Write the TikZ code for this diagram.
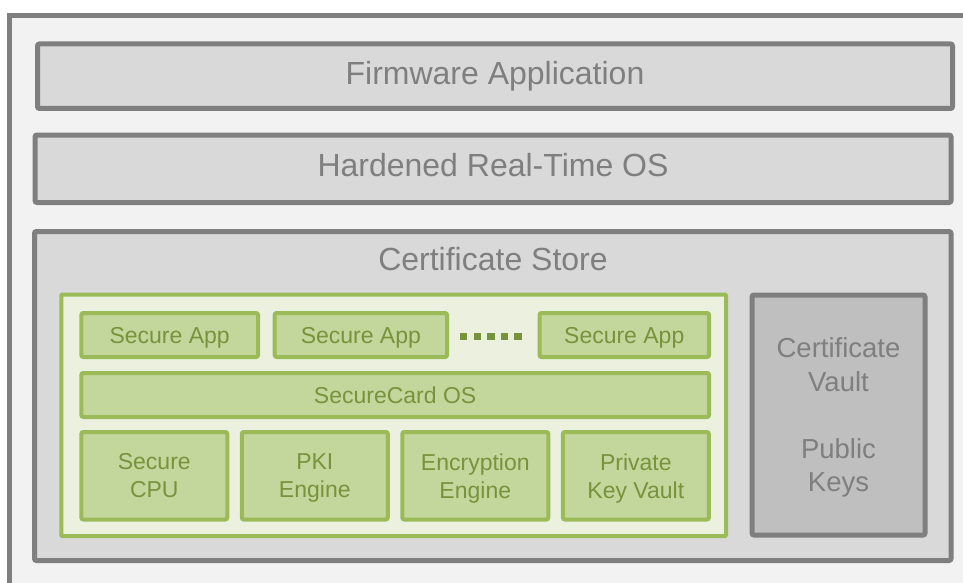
\documentclass[tikz,border=0pt]{standalone}
\usepackage{fontspec}
\setmainfont{Liberation Sans}
\definecolor{frameGray}{HTML}{7F7F7F}
\definecolor{paleGray}{HTML}{F2F2F2}
\definecolor{boxGray}{HTML}{D9D9D9}
\definecolor{vaultGray}{HTML}{BFBFBF}
\definecolor{leafGreen}{HTML}{9BBB59}
\definecolor{paleGreen}{HTML}{EBF1DE}
\definecolor{midGreen}{HTML}{C3D69B}
\definecolor{textGreen}{HTML}{77933C}
\tikzset{
  layer/.style={draw=frameGray, fill=boxGray, line width=5pt, rounded corners=2pt,
    inner sep=0pt, text=frameGray, text depth=6.7pt, font=\fontsize{32}{38}\selectfont},
  vaultbox/.style={draw=frameGray, fill=vaultGray, line width=5pt, rounded corners=2pt,
    inner sep=0pt, text=frameGray, align=center, text depth=0pt,
    font=\fontsize{27.5}{33.5}\selectfont},
  cardzone/.style={draw=leafGreen, fill=paleGreen, line width=4pt, rounded corners=1pt, inner sep=0pt},
  cardpart/.style={draw=leafGreen, fill=midGreen, line width=4pt, rounded corners=2pt,
    inner sep=0pt, text=textGreen, align=center, text depth=0pt,
    font=\fontsize{23}{28}\selectfont},
}
\begin{document}
\begin{tikzpicture}[x=1pt, y=-1pt]
\useasboundingbox (0,0) rectangle (963,583);
% outer enclosure, open to the right and bottom
\fill[paleGray] (9,16) rectangle (970,590);
\draw[frameGray, line width=5pt] (9,590) -- (9,16) -- (970,16);

% upper software layers
\node[layer, minimum width=915pt, minimum height=64.5pt] (fw) at (495,76.25) {Firmware Application};
\node[layer, minimum width=916pt, minimum height=67.5pt] (rtos) at (493,168.75) {Hardened Real-Time OS};

% certificate store
\node[layer, minimum width=916.5pt, minimum height=329pt] (store) at (492.75,396) {};
\node[text=frameGray, font=\fontsize{32}{38}\selectfont, anchor=base, inner sep=0pt]
  (storetitle) at (493,270) {Certificate Store};

% secure card region
\node[cardzone, minimum width=664.7pt, minimum height=241.5pt] (card) at (393.65,415.25) {};
\node[cardpart, minimum width=176.7pt, minimum height=44pt] (app1) at (169.65,335) {Secure App};
\node[cardpart, minimum width=172.3pt, minimum height=44pt] (app2) at (360.85,335) {Secure App};
\node[cardpart, minimum width=169.5pt, minimum height=44pt] (app3) at (624.25,335) {Secure App};
\coordinate (dotsL) at (460,336);
\coordinate (dotsR) at (522,336);
\draw[textGreen, line width=7pt, dash pattern=on 7.3pt off 6.3pt] (dotsL) -- (dotsR);
\node[cardpart, minimum width=627.7pt, minimum height=44pt] (scos) at (395.15,395) {SecureCard OS};
\node[cardpart, minimum width=146pt, minimum height=87.5pt] (cpu) at (154.3,475.75) {Secure\\CPU};
\node[cardpart, minimum width=146pt, minimum height=87.5pt] (pki) at (314.8,475.75) {PKI\\Engine};
\node[cardpart, minimum width=146pt, minimum height=87.5pt] (enc) at (475.3,475.75) {Encryption\\Engine};
\node[cardpart, minimum width=146pt, minimum height=87.5pt] (pkv) at (635.8,475.75) {Private\\Key Vault};

% certificate vault
\node[vaultbox, minimum width=173pt, minimum height=240pt] (vault) at (838.5,415)
  {Certificate\\Vault\\[33.5pt]Public\\Keys};
\end{tikzpicture}
\end{document}
